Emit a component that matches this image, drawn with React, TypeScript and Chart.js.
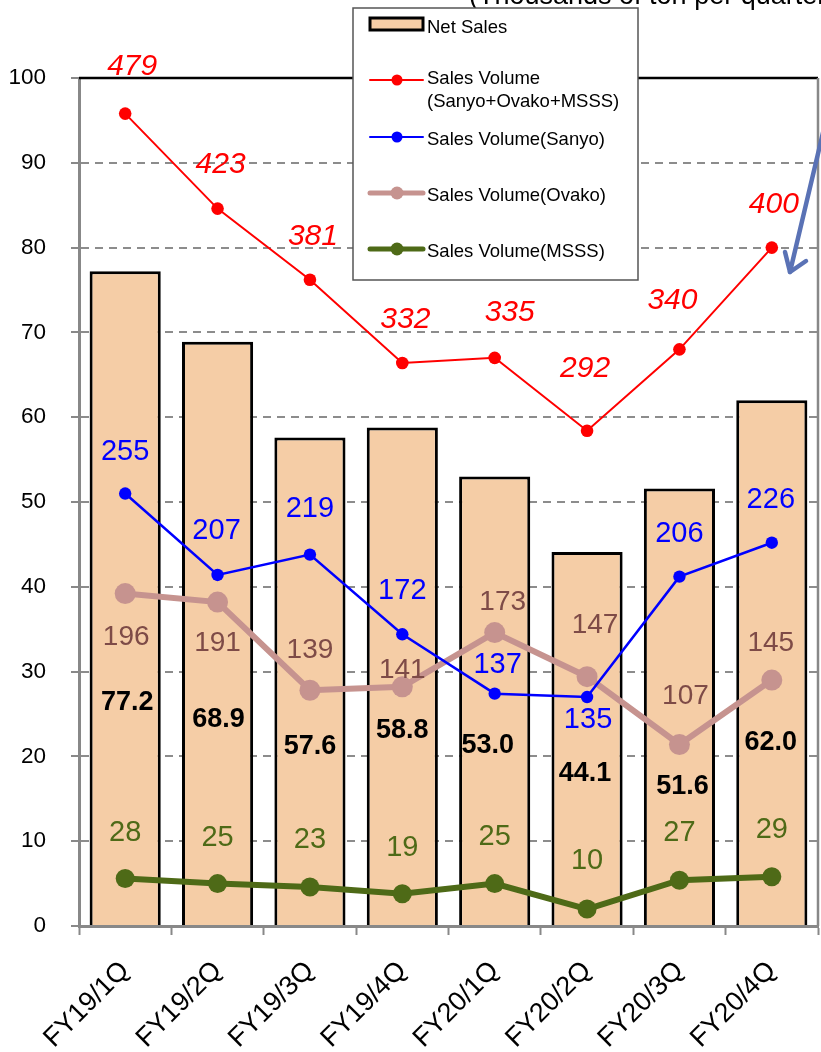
import React, { useEffect, useRef } from "react";
import { Chart, registerables } from "chart.js";

Chart.register(...registerables);

// ---------- data ----------
const categories = ["FY19/1Q", "FY19/2Q", "FY19/3Q", "FY19/4Q", "FY20/1Q", "FY20/2Q", "FY20/3Q", "FY20/4Q"];
const netSales = [77.2, 68.9, 57.6, 58.8, 53.0, 44.1, 51.6, 62.0];
const volumeTotal = [479, 423, 381, 332, 335, 292, 340, 400];
const volumeSanyo = [255, 207, 219, 172, 137, 135, 206, 226];
const volumeOvako = [196, 191, 139, 141, 173, 147, 107, 145];
const volumeMSSS = [28, 25, 23, 19, 25, 10, 27, 29];
const yAxisMin = 0;
const yAxisMax = 100;
const yAxisStep = 10;
const volumeAxisMax = 500;
const unitNote = "(Thousands of ton per quarter)";
const legendLabels = [
  "Net Sales",
  "Sales Volume",
  "(Sanyo+Ovako+MSSS)",
  "Sales Volume(Sanyo)",
  "Sales Volume(Ovako)",
  "Sales Volume(MSSS)",
];

// ---------- styling / label placement (pixels) ----------
const FONT = "'Liberation Sans', Arial, Helvetica, sans-serif";
const C_BAR = "#F5CDA6";
const C_RED = "#FF0000";
const C_BLUE = "#0000FF";
const C_OVAKO = "#C6938F";
const C_OVAKO_TXT = "#7E4B47";
const C_MSSS = "#4E6A17";
const C_GRID = "#8c8c8c";

const totalLabelOffset = [[7, -47], [3, -44], [3, -43], [3, -43], [15, -45], [-2, -62], [-7, -49], [2, -43]];
const sanyoLabelOffset = [[0, -42], [-1, -44], [0, -46], [0, -43], [3, -29], [1, 23], [0, -43], [-1, -43]];
const ovakoLabelOffset = [[1, 44], [0, 41], [0, -40], [0, -17], [8, -30], [8, -51], [6, -48], [-1, -37]];
const msssLabelOffset = [[0, -46], [0, -46], [0, -47], [0, -46], [0, -47], [0, -48], [0, -47], [0, -47]];
const netLabelLevel = [26.4, 24.3, 21.2, 23.0, 21.3, 18.0, 16.4, 21.6];
const netLabelDx = [2, 1, 0, 0, -7, -2, 3, -1];

const overlayPlugin = {
  id: "overlay",
  afterDatasetsDraw(chart: any) {
    const { ctx, chartArea: a, scales } = chart;
    ctx.save();
    // top border (black) and right border (grey)
    ctx.strokeStyle = "#000";
    ctx.lineWidth = 2.5;
    ctx.beginPath();
    ctx.moveTo(a.left, a.top);
    ctx.lineTo(a.right, a.top);
    ctx.stroke();
    ctx.strokeStyle = "#888";
    ctx.lineWidth = 2.5;
    ctx.beginPath();
    ctx.moveTo(a.right, a.top);
    ctx.lineTo(a.right, a.bottom);
    ctx.stroke();

    ctx.textAlign = "center";
    ctx.textBaseline = "middle";

    const drawSeriesLabels = (dsIndex: number, values: number[], offs: number[][], font: string, color: string) => {
      const meta = chart.getDatasetMeta(dsIndex);
      ctx.font = font;
      ctx.fillStyle = color;
      meta.data.forEach((pt: any, i: number) => {
        ctx.fillText(String(values[i]), pt.x + offs[i][0], pt.y + offs[i][1]);
      });
    };

    // net sales labels
    const barMeta = chart.getDatasetMeta(0);
    ctx.font = `bold 27px ${FONT}`;
    ctx.fillStyle = "#000";
    barMeta.data.forEach((bar: any, i: number) => {
      ctx.fillText(netSales[i].toFixed(1), bar.x + netLabelDx[i], scales.y.getPixelForValue(netLabelLevel[i]));
    });

    drawSeriesLabels(4, volumeMSSS, msssLabelOffset, `29px ${FONT}`, C_MSSS);
    drawSeriesLabels(3, volumeOvako, ovakoLabelOffset, `28px ${FONT}`, C_OVAKO_TXT);
    drawSeriesLabels(2, volumeSanyo, sanyoLabelOffset, `29px ${FONT}`, C_BLUE);
    drawSeriesLabels(1, volumeTotal, totalLabelOffset, `italic 30px ${FONT}`, C_RED);
    ctx.restore();
  },
  afterDraw(chart: any) {
    const { ctx } = chart;
    ctx.save();
    // unit note (cut off at top edge)
    ctx.font = `27px ${FONT}`;
    ctx.fillStyle = "#000";
    ctx.textAlign = "left";
    ctx.textBaseline = "alphabetic";
    ctx.fillText(unitNote, 469, 4);

    // legend box
    const lx = 353, ly = 8, lw = 285, lh = 272;
    ctx.fillStyle = "#fff";
    ctx.fillRect(lx, ly, lw, lh);
    ctx.strokeStyle = "#555";
    ctx.lineWidth = 1.5;
    ctx.strokeRect(lx, ly, lw, lh);

    const sx1 = 370, sx2 = 423, smid = 397, tx = 427;
    // Net Sales swatch
    ctx.fillStyle = C_BAR;
    ctx.fillRect(sx1, 18, sx2 - sx1, 12);
    ctx.strokeStyle = "#000";
    ctx.lineWidth = 3;
    ctx.strokeRect(sx1, 18, sx2 - sx1, 12);

    const legendLine = (y: number, color: string, width: number, r: number) => {
      ctx.strokeStyle = color;
      ctx.lineWidth = width;
      ctx.lineCap = "round";
      ctx.beginPath();
      ctx.moveTo(sx1, y);
      ctx.lineTo(sx2, y);
      ctx.stroke();
      ctx.fillStyle = color;
      ctx.beginPath();
      ctx.arc(smid, y, r, 0, Math.PI * 2);
      ctx.fill();
    };
    legendLine(80, C_RED, 2, 5.5);
    legendLine(137, C_BLUE, 2, 5.5);
    legendLine(193, C_OVAKO, 5, 6.5);
    legendLine(249, C_MSSS, 5, 6.5);

    ctx.font = `18.5px ${FONT}`;
    ctx.fillStyle = "#000";
    ctx.textAlign = "left";
    ctx.textBaseline = "middle";
    ctx.fillText(legendLabels[0], tx, 28);
    ctx.fillText(legendLabels[1], tx, 79);
    ctx.fillText(legendLabels[2], tx, 102);
    ctx.fillText(legendLabels[3], tx, 140);
    ctx.fillText(legendLabels[4], tx, 196);
    ctx.fillText(legendLabels[5], tx, 252);

    // arrow annotation
    ctx.strokeStyle = "#5A72B5";
    ctx.lineWidth = 4.5;
    ctx.lineCap = "round";
    ctx.lineJoin = "round";
    ctx.beginPath();
    ctx.moveTo(826, 120);
    ctx.lineTo(790, 272);
    ctx.stroke();
    ctx.beginPath();
    ctx.moveTo(785, 252);
    ctx.lineTo(790, 272);
    ctx.lineTo(806, 261);
    ctx.stroke();
    ctx.restore();
  },
};

export default function App() {
  const ref = useRef<HTMLCanvasElement>(null);

  useEffect(() => {
    const canvas = ref.current;
    if (!canvas) return;
    const chart = new Chart(canvas, {
      data: {
        labels: categories,
        datasets: [
          {
            type: "bar",
            label: legendLabels[0],
            data: netSales,
            backgroundColor: C_BAR,
            borderColor: "#000",
            borderWidth: 3,
            barPercentage: 0.77,
            categoryPercentage: 1,
            yAxisID: "y",
            order: 5,
          },
          {
            type: "line",
            label: "Sales Volume(Sanyo+Ovako+MSSS)",
            data: volumeTotal,
            borderColor: C_RED,
            backgroundColor: C_RED,
            borderWidth: 2,
            pointRadius: 6.3,
            pointBorderWidth: 0,
            yAxisID: "y1",
            order: 1,
          },
          {
            type: "line",
            label: legendLabels[3],
            data: volumeSanyo,
            borderColor: C_BLUE,
            backgroundColor: C_BLUE,
            borderWidth: 2.5,
            pointRadius: 6.2,
            pointBorderWidth: 0,
            yAxisID: "y1",
            order: 2,
          },
          {
            type: "line",
            label: legendLabels[4],
            data: volumeOvako,
            borderColor: C_OVAKO,
            backgroundColor: C_OVAKO,
            borderWidth: 6,
            pointRadius: 10.5,
            pointBorderWidth: 0,
            yAxisID: "y1",
            order: 3,
          },
          {
            type: "line",
            label: legendLabels[5],
            data: volumeMSSS,
            borderColor: C_MSSS,
            backgroundColor: C_MSSS,
            borderWidth: 6,
            pointRadius: 9.5,
            pointBorderWidth: 0,
            yAxisID: "y1",
            order: 4,
          },
        ],
      } as any,
      options: {
        responsive: false,
        animation: false,
        devicePixelRatio: 1,
        layout: { autoPadding: false, padding: { top: 78, right: 3, left: 0, bottom: 0 } },
        plugins: {
          legend: { display: false },
          tooltip: { enabled: false },
          title: { display: false },
        },
        scales: {
          x: {
            offset: true,
            grid: {
              offset: true,
              drawOnChartArea: false,
              drawTicks: true,
              tickLength: 9,
              tickColor: "#888",
              tickWidth: 2,
            },
            border: { color: "#888", width: 3 },
            ticks: {
              color: "#000",
              font: { family: FONT, size: 27 },
              minRotation: 45,
              maxRotation: 45,
              autoSkip: false,
              padding: 20,
            },
            afterFit: (s: any) => {
              s.height = 126;
              s.paddingLeft = 0;
              s.paddingRight = 0;
            },
          },
          y: {
            min: yAxisMin,
            max: yAxisMax,
            ticks: {
              stepSize: yAxisStep,
              color: "#000",
              font: { family: FONT, size: 22.5 },
              padding: 25,
            },
            grid: {
              color: (c: any) => {
                const v = c.tick ? c.tick.value : null;
                return v === yAxisMin || v === yAxisMax ? "rgba(0,0,0,0)" : C_GRID;
              },
              lineWidth: 2,
              tickColor: "#888",
              tickLength: 8,
              tickWidth: 2,
              tickBorderDash: [],
            },
            border: { color: "#888", width: 3, dash: [8, 6] },
            afterFit: (s: any) => {
              s.width = 79;
              s.paddingTop = 0;
              s.paddingBottom = 0;
            },
          },
          y1: {
            display: false,
            min: 0,
            max: volumeAxisMax,
          },
        },
      } as any,
      plugins: [overlayPlugin],
    });
    return () => chart.destroy();
  }, []);

  return (
    <div style={{ position: "absolute", left: 0, top: 0, width: 821, height: 1052 }}>
      <canvas ref={ref} width={821} height={1052} style={{ display: "block", width: 821, height: 1052 }} />
    </div>
  );
}
